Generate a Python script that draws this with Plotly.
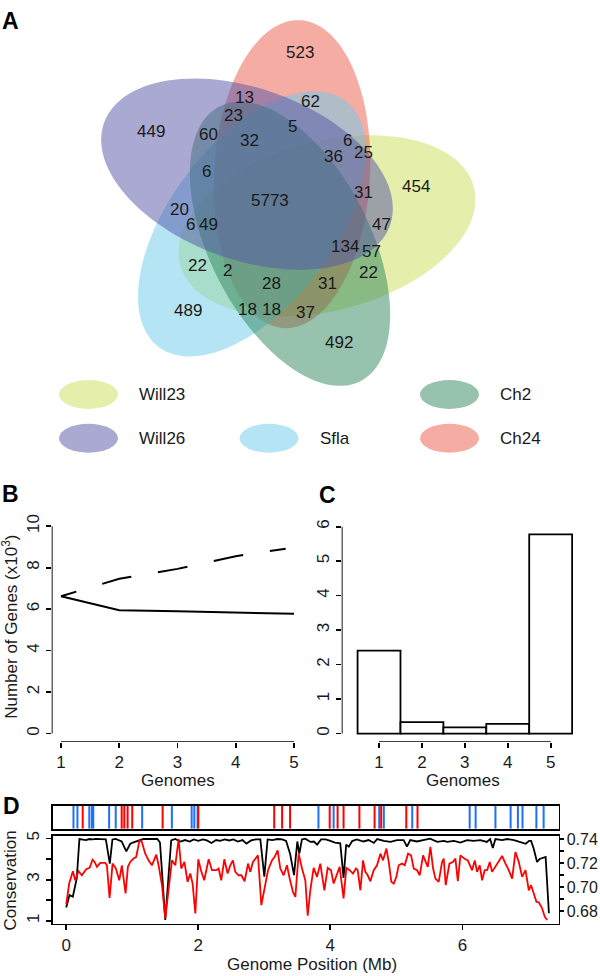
import numpy as np
import plotly.graph_objects as go

FONT = "Liberation Sans, Arial, sans-serif"
TXT = "#1a1a1a"

# ---------------- Panel A: Venn data ----------------
set_names = ["Will23", "Ch24", "Sfla", "Ch2", "Will26"]          # drawing order
set_colors = ["#cbdd55", "#eb5b47", "#6bcbeb", "#2f855b", "#5353a5"]
region_counts = [523, 13, 62, 449, 23, 60, 32, 5, 6, 36, 6, 25, 454, 5773, 31,
                 20, 6, 49, 47, 134, 57, 22, 2, 28, 31, 22, 489, 18, 18, 37, 492]
legend_names = ["Will23", "Will26", "Sfla", "Ch2", "Ch24"]

# ---------------- Panel B: pan / core genome (x10^3) ----------------
genomes = [1, 2, 3, 4, 5]
pan_genes = [6.62, 7.46, 7.94, 8.55, 8.97]
core_genes = [6.62, 5.95, 5.90, 5.85, 5.773]

# ---------------- Panel C: genes shared by n genomes (x10^3) ----------------
shared_counts = [2.407, 0.33, 0.18, 0.28, 5.773]

# ---------------- Panel D ----------------
blue_marks = [0.11, 0.17, 0.35, 0.39, 0.41, 0.65, 0.75, 1.15, 1.60, 1.90, 1.94, 1.99,
              3.82, 4.05, 4.74, 4.81, 5.24, 6.11, 6.20, 6.50, 6.73, 6.84, 6.91, 7.12, 7.23]
red_marks = [0.25, 0.84, 0.88, 0.93, 1.00, 1.46, 2.00, 3.15, 3.27, 3.39, 3.99, 4.11,
             4.20, 4.44, 4.67, 4.77, 5.15, 5.32]

cons_mb = [0.00, 0.05, 0.10, 0.16, 0.20, 0.25, 0.30, 0.35, 0.40, 0.45, 0.50, 0.55, 0.60,
           0.66, 0.70, 0.75, 0.80, 0.84, 0.91, 0.97, 1.04, 1.10, 1.17, 1.24, 1.31, 1.38,
           1.42, 1.50, 1.59, 1.65, 1.73, 1.80, 1.87, 1.93, 2.00, 2.07, 2.13, 2.20, 2.27,
           2.33, 2.40, 2.47, 2.53, 2.60, 2.67, 2.73, 2.80, 2.87, 2.94, 3.00, 3.05, 3.12,
           3.20, 3.27, 3.33, 3.39, 3.45, 3.50, 3.53, 3.57, 3.62, 3.70, 3.75, 3.80, 3.86,
           3.93, 4.00, 4.07, 4.15, 4.20, 4.24, 4.28, 4.33, 4.40, 4.50, 4.58, 4.66, 4.71,
           4.81, 4.91, 5.01, 5.11, 5.16, 5.21, 5.31, 5.41, 5.51, 5.62, 5.72, 5.77, 5.87,
           5.97, 6.07, 6.17, 6.27, 6.37, 6.42, 6.46, 6.50, 6.60, 6.68, 6.78, 6.88, 6.96,
           7.01, 7.04, 7.08, 7.13, 7.17, 7.21, 7.26, 7.31]
cons_val = [1.65, 2.25, 2.17, 3.06, 4.97, 4.95, 4.92, 4.97, 4.95, 4.98, 4.97, 4.98, 4.95,
            3.78, 4.95, 4.98, 4.92, 4.85, 4.37, 4.74, 4.83, 4.90, 4.97, 4.97, 4.98, 4.97,
            4.80, 1.05, 4.90, 4.97, 4.85, 4.92, 4.85, 4.95, 4.88, 4.95, 4.90, 4.78, 4.92,
            4.88, 4.95, 4.90, 4.95, 4.85, 4.92, 4.75, 4.90, 4.95, 4.95, 3.14, 4.95, 4.92,
            4.97, 4.95, 4.88, 4.26, 3.22, 4.85, 4.26, 4.95, 4.99, 4.83, 4.85, 4.70, 4.95,
            4.95, 4.88, 4.80, 4.76, 3.09, 4.70, 4.60, 4.87, 4.95, 4.85, 4.92, 4.78, 4.97,
            4.88, 4.83, 4.92, 4.92, 4.60, 4.92, 4.85, 4.92, 4.99, 4.83, 4.88, 4.83, 4.88,
            4.80, 4.92, 4.88, 4.92, 4.83, 4.97, 4.54, 4.97, 4.92, 4.97, 4.92, 4.83, 4.74,
            4.88, 4.88, 4.50, 3.86, 4.00, 4.05, 4.10, 1.37]

gc_mb = [0.000, 0.045, 0.101, 0.136, 0.187, 0.237, 0.303, 0.354, 0.399, 0.430, 0.465,
         0.515, 0.591, 0.616, 0.657, 0.702, 0.753, 0.803, 0.843, 0.899, 0.934, 0.970,
         1.020, 1.060, 1.110, 1.146, 1.197, 1.247, 1.298, 1.364, 1.399, 1.450, 1.500,
         1.550, 1.601, 1.652, 1.702, 1.742, 1.790, 1.838, 1.879, 1.914, 1.955, 2.000,
         2.040, 2.090, 2.157, 2.207, 2.273, 2.308, 2.348, 2.394, 2.444, 2.485, 2.525,
         2.560, 2.611, 2.652, 2.702, 2.753, 2.788, 2.828, 2.864, 2.904, 2.955, 3.005,
         3.056, 3.116, 3.157, 3.202, 3.242, 3.293, 3.343, 3.384, 3.434, 3.470, 3.520,
         3.571, 3.621, 3.657, 3.697, 3.747, 3.798, 3.848, 3.909, 3.960, 4.010, 4.050,
         4.100, 4.141, 4.200, 4.242, 4.293, 4.343, 4.389, 4.414, 4.455, 4.495, 4.530,
         4.566, 4.606, 4.657, 4.707, 4.758, 4.798, 4.849, 4.884, 4.924, 4.960, 5.000,
         5.035, 5.086, 5.126, 5.177, 5.222, 5.263, 5.313, 5.354, 5.404, 5.440, 5.475,
         5.515, 5.556, 5.591, 5.641, 5.692, 5.717, 5.747, 5.803, 5.854, 5.894, 5.930,
         5.970, 6.030, 6.081, 6.146, 6.187, 6.222, 6.263, 6.298, 6.338, 6.374, 6.414,
         6.449, 6.500, 6.551, 6.601, 6.652, 6.702, 6.753, 6.803, 6.854, 6.904, 6.955,
         7.005, 7.040, 7.081, 7.121, 7.157, 7.207, 7.247, 7.283]
gc_val = [0.6855, 0.7029, 0.7131, 0.7056, 0.7131, 0.7098, 0.7148, 0.7159, 0.7228, 0.7209,
          0.7168, 0.7201, 0.7201, 0.7181, 0.6910, 0.7195, 0.7154, 0.7056, 0.7181, 0.6946,
          0.7168, 0.7209, 0.7237, 0.7251, 0.7389, 0.7375, 0.7278, 0.7222, 0.7181, 0.7270,
          0.7181, 0.7015, 0.6739, 0.7001, 0.7222, 0.7181, 0.7400, 0.7154, 0.7209, 0.7043,
          0.7112, 0.7029, 0.6780, 0.7231, 0.7140, 0.7056, 0.7231, 0.7140, 0.7140, 0.7154,
          0.7056, 0.7231, 0.7112, 0.7181, 0.7222, 0.7126, 0.7098, 0.7098, 0.7048, 0.7195,
          0.7126, 0.7209, 0.7237, 0.7264, 0.6849, 0.6988, 0.7140, 0.7222, 0.7251, 0.7305,
          0.7154, 0.7098, 0.7181, 0.7070, 0.6960, 0.6918, 0.7278, 0.7154, 0.7056, 0.6761,
          0.6974, 0.7159, 0.7085, 0.7195, 0.6973, 0.7159, 0.7140, 0.7029, 0.7112, 0.7168,
          0.6905, 0.7159, 0.7140, 0.7112, 0.7154, 0.7140, 0.6973, 0.7222, 0.7126, 0.7098,
          0.7048, 0.7140, 0.7181, 0.7278, 0.7222, 0.7320, 0.7209, 0.7043, 0.7029, 0.7085,
          0.7181, 0.7195, 0.7181, 0.7278, 0.7264, 0.7154, 0.7140, 0.7098, 0.7264, 0.7209,
          0.7168, 0.7334, 0.7154, 0.7070, 0.7043, 0.7209, 0.7237, 0.7015, 0.7195, 0.7209,
          0.7237, 0.7048, 0.7264, 0.7237, 0.7222, 0.7140, 0.7222, 0.7126, 0.7181, 0.7056,
          0.7140, 0.7140, 0.7209, 0.7126, 0.7168, 0.7209, 0.7259, 0.7195, 0.7140, 0.7070,
          0.7292, 0.7209, 0.7085, 0.7140, 0.6973, 0.7015, 0.6946, 0.6877, 0.6872, 0.6822,
          0.6753, 0.6725]

# ---------------- layout geometry (pixels, separate from data) ----------------
W, H = 600, 976
ellipse_geom = {            # cx, cy, semi-major, semi-minor, angle (deg, CCW)
    "Will23": (327, 222, 152, 85, 15),
    "Ch24": (292, 170, 155, 78, 87),
    "Sfla": (252, 220, 155, 82, 233),
    "Ch2": (290, 240, 155, 80, 297),
    "Will26": (247, 170, 152, 86, 160),
}
region_label_xy = [(300, 48), (244, 93), (310, 97), (151, 127), (233, 111), (208, 130),
                   (249, 136), (292, 122), (206, 167), (333, 152), (347, 136), (363, 148),
                   (416, 182), (270, 197), (363, 188), (179, 206), (190, 221), (208, 221),
                   (381, 221), (345, 243), (371, 248), (197, 262), (227, 267), (271, 280),
                   (327, 280), (368, 269), (188, 307), (247, 306), (271, 306), (305, 309),
                   (339, 339)]
legend_xy = [(88.5, 391.5), (88.5, 435.5), (269, 435.5), (449.5, 391.5), (449.5, 435.5)]


def ellipse_path(cx, cy, a, b, ang):
    t = np.linspace(0, 2 * np.pi, 120)
    th = np.radians(ang)
    xs = cx + a * np.cos(t) * np.cos(th) - b * np.sin(t) * np.sin(th)
    ys = cy - (a * np.cos(t) * np.sin(th) + b * np.sin(t) * np.cos(th))
    return "M " + " L ".join(f"{x:.2f},{y:.2f}" for x, y in zip(xs, ys)) + " Z"


def dom_x(p0, p1):
    return [p0 / W, p1 / W]


def dom_y(top, bottom):
    return [1 - bottom / H, 1 - top / H]


fig = go.Figure()
shapes = []
annotations = []

# ---- Venn ellipses ----
color_of = dict(zip(set_names, set_colors))
for name in set_names:
    shapes.append(dict(type="path", xref="x", yref="y", path=ellipse_path(*ellipse_geom[name]),
                       fillcolor=color_of[name], opacity=0.5, line=dict(width=0)))
for cnt, (x, y) in zip(region_counts, region_label_xy):
    annotations.append(dict(x=x, y=y, xref="x", yref="y", text=str(cnt), showarrow=False,
                            font=dict(size=17, color=TXT, family=FONT)))
# legend
for name, (x, y) in zip(legend_names, legend_xy):
    shapes.append(dict(type="circle", xref="x", yref="y", x0=x - 29.5, x1=x + 29.5,
                       y0=y - 14.5, y1=y + 14.5, fillcolor=color_of[name], opacity=0.5,
                       line=dict(width=0)))
    annotations.append(dict(x=x + 48.5, y=y, xref="x", yref="y", text=name, showarrow=False,
                            xanchor="left", font=dict(size=17, color=TXT, family=FONT)))

# ---- panel letters & titles ----
for letter, (x, y) in zip("ABCD", [(10.5, 16), (10.5, 492), (327, 493), (11, 805)]):
    annotations.append(dict(x=x, y=y, xref="x", yref="y", text=f"<b>{letter}</b>",
                            showarrow=False, font=dict(size=23, color="black", family=FONT)))
titles = [("Genomes", 177.5, 779, 0), ("Genomes", 463, 779, 0),
          ("Genome Position (Mb)", 312, 964, 0),
          ("Number of Genes (x10<sup>3</sup>)", 10, 625, -90),
          ("Conservation", 10, 880, -90)]
for text, x, y, ang in titles:
    annotations.append(dict(x=x, y=y, xref="x", yref="y", text=text, showarrow=False,
                            textangle=ang, font=dict(size=17, color=TXT, family=FONT)))

# ---- Panel B ----
fig.add_trace(go.Scatter(x=genomes, y=core_genes, mode="lines", xaxis="x2", yaxis="y2",
                         line=dict(color="black", width=2), showlegend=False))
fig.add_trace(go.Scatter(x=genomes, y=pan_genes, mode="lines", xaxis="x2", yaxis="y2",
                         line=dict(color="black", width=2,
                                   dash="16px,27px,30px,27px,30px,27px,30px,27px"),
                         showlegend=False))
shapes.append(dict(type="line", xref="x2", yref="y2", x0=0.84, x1=0.84, y0=0, y1=10,
                   line=dict(color="black", width=1.8)))
shapes.append(dict(type="line", xref="x2", yref="y2", x0=1, x1=5, y0=-0.4, y1=-0.4,
                   line=dict(color="black", width=1.8)))

# ---- Panel C ----
fig.add_trace(go.Bar(x=genomes, y=shared_counts, width=1, xaxis="x3", yaxis="y3",
                     marker=dict(color="white", line=dict(color="black", width=1.8)),
                     showlegend=False))
shapes.append(dict(type="line", xref="x3", yref="y3", x0=0.13, x1=0.13, y0=0, y1=6,
                   line=dict(color="black", width=1.8)))
shapes.append(dict(type="line", xref="x3", yref="y3", x0=1, x1=5, y0=-0.24, y1=-0.24,
                   line=dict(color="black", width=1.8)))

# ---- Panel D strip ----
def vlines(pos):
    xs, ys = [], []
    for p in pos:
        xs += [p, p, None]
        ys += [0, 1, None]
    return xs, ys

bx, by = vlines(blue_marks)
rx, ry = vlines(red_marks)
fig.add_trace(go.Scatter(x=bx, y=by, mode="lines", xaxis="x4", yaxis="y4",
                         line=dict(color="#1f6fff", width=2), showlegend=False))
fig.add_trace(go.Scatter(x=rx, y=ry, mode="lines", xaxis="x4", yaxis="y4",
                         line=dict(color="#ff0000", width=2), showlegend=False))

# ---- Panel D lines ----
fig.add_trace(go.Scatter(x=cons_mb, y=cons_val, mode="lines", xaxis="x5", yaxis="y5",
                         line=dict(color="black", width=1.8), showlegend=False))
fig.add_trace(go.Scatter(x=gc_mb, y=gc_val, mode="lines", xaxis="x5", yaxis="y6",
                         line=dict(color="#ff0000", width=1.8), showlegend=False))

tickfont = dict(size=17, color=TXT, family=FONT)
base = dict(showgrid=False, zeroline=False, tickfont=tickfont, ticks="outside",
            tickwidth=1.8, tickcolor="black")
d_xrange = [-0.2, 7.455]
minor_style = dict(ticks="outside", ticklen=5, tickwidth=1.8, tickcolor="black",
                   showgrid=False, tickmode="array")

fig.update_layout(
    width=W, height=H, margin=dict(l=0, r=0, t=0, b=0),
    plot_bgcolor="rgba(0,0,0,0)", paper_bgcolor="white",
    font=dict(family=FONT, color=TXT),
    xaxis=dict(domain=[0, 1], range=[0, W], visible=False, fixedrange=True),
    yaxis=dict(domain=[0, 1], range=[H, 0], visible=False, fixedrange=True),
    xaxis2=dict(domain=dom_x(51.7, 303.3), range=[0.84, 5.16], anchor="y2",
                tickvals=genomes, showline=False, ticklen=5, **base),
    yaxis2=dict(domain=dom_y(515.5, 740.6), range=[-0.4, 10.4], anchor="x2",
                tickvals=[0, 2, 4, 6, 8, 10], tickangle=-90, showline=False, ticklen=5,
                **base),
    xaxis3=dict(domain=dom_x(341.7, 588), range=[0.13, 5.87], anchor="y3",
                tickvals=genomes, showline=False, ticklen=5, **base),
    yaxis3=dict(domain=dom_y(516, 740.6), range=[-0.24, 6.24], anchor="x3",
                tickvals=[0, 1, 2, 3, 4, 5, 6], tickangle=-90, showline=False, ticklen=5,
                **base),
    xaxis4=dict(domain=dom_x(53, 558.5), range=d_xrange, anchor="y4", showgrid=False,
                zeroline=False, showticklabels=False, ticks="", showline=True,
                mirror=True, linecolor="black", linewidth=1.8),
    yaxis4=dict(domain=dom_y(805, 828), range=[0, 1], anchor="x4", showgrid=False,
                zeroline=False, showticklabels=False, ticks="", showline=True,
                mirror=True, linecolor="black", linewidth=1.8),
    xaxis5=dict(domain=dom_x(53, 558.5), range=d_xrange, anchor="y5",
                tickvals=[0, 2, 4, 6], showline=True, mirror=True, linecolor="black",
                linewidth=1.8, ticklen=5, **base),
    yaxis5=dict(domain=dom_y(835, 923.3), range=[0.87, 5.13], anchor="x5",
                tickvals=[1, 3, 5], tickangle=-90, ticklen=5,
                minor=dict(tickvals=[2, 4], **minor_style),
                showline=True, mirror=True, linecolor="black", linewidth=1.8, **base),
    yaxis6=dict(overlaying="y5", side="right", anchor="x5", range=[0.66956, 0.74273],
                tickvals=[0.68, 0.70, 0.72, 0.74], tickformat=".2f", ticklen=4,
                minor=dict(tickvals=[0.69, 0.71, 0.73], ticks="outside", ticklen=4,
                           tickwidth=1.8, tickcolor="black", showgrid=False,
                           tickmode="array"),
                showline=False, showgrid=False, zeroline=False, ticks="outside",
                tickwidth=1.8, tickcolor="black",
                tickfont=dict(size=16, color=TXT, family=FONT)),
    shapes=shapes, annotations=annotations, showlegend=False,
)

post = ("document.body.style.margin='0';document.body.style.overflow='hidden';"
        "var gd=document.getElementById('{plot_id}');gd.style.position='fixed';"
        "gd.style.left='0px';gd.style.top='0px';")
fig.write_html("out.html", post_script=post,
               config={"displayModeBar": False, "staticPlot": True})
